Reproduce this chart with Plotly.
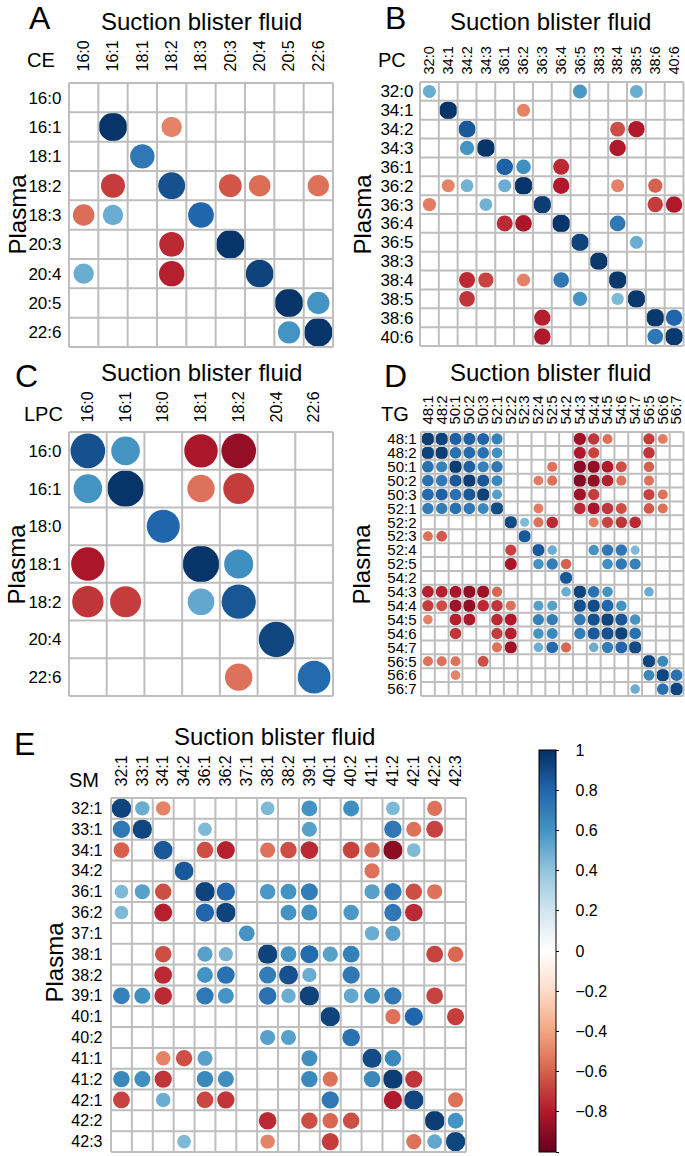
import math
import plotly.graph_objects as go

W, H = 685, 1156
_ = None

# ---------------- data ----------------
ce_labels = ["16:0", "16:1", "18:1", "18:2", "18:3", "20:3", "20:4", "20:5", "22:6"]
ce_matrix = [
    [_, _, _, _, _, _, _, _, _],
    [_, .98, _, -.5, _, _, _, _, _],
    [_, _, .72, _, _, _, _, _, _],
    [_, -.7, _, .88, _, -.63, -.56, _, -.55],
    [-.56, .5, _, _, .8, _, _, _, _],
    [_, _, _, -.75, _, .98, _, _, _],
    [.5, _, _, -.78, _, _, .93, _, _],
    [_, _, _, _, _, _, _, .98, .6],
    [_, _, _, _, _, _, _, .6, .98],
]

pc_labels = ["32:0", "34:1", "34:2", "34:3", "36:1", "36:2", "36:3", "36:4", "36:5",
             "38:3", "38:4", "38:5", "38:6", "40:6"]
pc_matrix = [
    [.5, _, _, _, _, _, _, _, .58, _, _, .5, _, _],
    [_, .98, _, _, _, -.5, _, _, _, _, _, _, _, _],
    [_, _, .85, _, _, _, _, _, _, _, -.65, -.8, _, _],
    [_, _, .6, .98, _, _, _, _, _, _, -.8, _, _, _],
    [_, _, _, _, .82, .62, _, -.75, _, _, _, _, _, _],
    [_, -.5, .48, _, .5, .98, _, -.8, _, _, -.5, _, -.6, _],
    [-.52, _, _, .48, _, _, .95, _, _, _, _, _, -.7, -.8],
    [_, _, _, _, -.75, -.82, _, .98, _, _, .72, _, _, _],
    [_, _, _, _, _, _, _, _, .93, _, _, .5, _, _],
    [_, _, _, _, _, _, _, _, _, .97, _, _, _, _],
    [_, _, -.75, -.68, _, -.5, _, .72, _, _, .97, _, _, _],
    [_, _, -.72, _, _, _, _, _, .6, _, .45, .97, _, _],
    [_, _, _, _, _, _, -.78, _, _, _, _, _, .97, .8],
    [_, _, _, _, _, _, -.8, _, _, _, _, _, .72, .97],
]

lpc_labels = ["16:0", "16:1", "18:0", "18:1", "18:2", "20:4", "22:6"]
lpc_matrix = [
    [.88, .6, _, -.82, -.88, _, _],
    [.6, .98, _, -.55, -.7, _, _],
    [_, _, .8, _, _, _, _],
    [-.82, _, _, .98, .62, _, _],
    [-.72, -.7, _, .52, .86, _, _],
    [_, _, _, _, _, .92, _],
    [_, _, _, _, -.55, _, .78],
]

tg_labels = ["48:1", "48:2", "50:1", "50:2", "50:3", "52:1", "52:2", "52:3", "52:4", "52:5",
             "54:2", "54:3", "54:4", "54:5", "54:6", "54:7", "56:5", "56:6", "56:7"]
tg_matrix = [
    [.95, .93, .82, .82, .8, .68, _, _, _, _, _, -.85, -.72, -.55, _, _, -.7, -.52, _],
    [.93, .95, .75, .78, .75, .62, _, _, _, _, _, -.8, -.68, _, _, _, -.72, _, _],
    [.75, .68, .95, .82, .68, .72, _, _, _, -.55, _, -.9, -.88, -.8, -.65, _, -.6, _, _],
    [.75, .72, .85, .95, .85, .65, _, _, -.52, -.55, _, -.92, -.88, -.78, -.55, _, -.55, _, _],
    [.78, .82, .75, .85, .93, .55, _, _, _, _, _, -.85, -.7, _, _, _, -.68, -.55, _],
    [.7, .7, .75, .72, .65, .9, _, _, -.52, _, _, -.75, -.82, -.72, -.65, _, -.62, -.55, _],
    [_, _, _, _, _, _, .9, .45, -.55, -.75, _, _, -.52, -.68, -.72, -.75, _, _, _],
    [-.55, -.62, _, _, _, _, _, .85, _, _, _, _, _, _, _, _, _, _, _],
    [_, _, _, _, _, _, -.68, _, .85, .5, _, _, .6, .72, .72, .45, _, _, _],
    [_, _, _, _, _, _, -.82, _, .6, .7, -.6, _, _, .62, .72, .68, _, _, _],
    [_, _, _, _, _, _, _, _, _, _, .85, _, _, _, _, _, _, _, _],
    [-.78, -.78, -.82, -.88, -.85, -.58, _, _, _, _, .5, .92, .75, .6, _, _, .5, _, _],
    [-.7, -.65, -.85, -.88, -.75, -.72, -.55, _, .55, .55, _, .88, .9, .8, .6, _, _, _, _],
    [-.5, _, -.78, -.8, _, -.75, -.8, _, .68, .7, _, .72, .88, .93, .85, .6, _, _, _],
    [_, _, -.72, _, _, -.7, -.78, _, .6, .65, _, .7, .85, .88, .93, .75, _, _, _],
    [_, _, _, _, _, -.55, -.85, _, .5, .78, -.58, _, .5, .7, .8, .9, _, _, _],
    [-.55, -.55, -.55, _, -.65, _, _, _, _, _, _, _, _, _, _, _, .92, .65, _],
    [_, _, -.5, _, _, _, _, _, _, _, _, _, _, _, _, _, .65, .92, .75],
    [_, _, _, _, _, _, _, _, _, _, _, _, _, _, _, .5, _, .75, .92],
]

sm_labels = ["32:1", "33:1", "34:1", "34:2", "36:1", "36:2", "37:1", "38:1", "38:2", "39:1",
             "40:1", "40:2", "41:1", "41:2", "42:1", "42:2", "42:3"]
sm_matrix = [
    [.93, .5, -.5, _, _, _, _, .45, _, .6, _, .62, _, .45, _, -.55, _],
    [.72, .92, _, _, .45, _, _, _, _, .55, _, _, _, .72, -.55, -.68, _],
    [-.6, _, .85, _, -.65, -.78, _, -.55, -.65, -.75, _, -.68, -.58, -.9, .45, _, _],
    [_, _, _, .85, _, _, _, _, _, _, _, _, -.55, _, _, _, _],
    [.45, .55, -.65, _, .93, .8, _, .58, .6, .7, _, _, .55, .72, -.65, -.55, _],
    [.45, _, -.78, _, .8, .93, _, _, .6, .62, _, .58, _, .72, -.75, _, _],
    [_, _, _, _, _, _, .6, _, _, _, _, _, .5, .55, _, _, _],
    [_, _, -.65, _, .55, .48, _, .93, .6, .78, .55, .68, _, _, _, -.68, -.58],
    [_, _, -.75, _, .6, .75, _, .7, .88, .5, _, .72, _, _, _, _, _],
    [.68, .62, -.75, _, .72, .6, _, .75, .5, .93, _, .52, .62, .72, _, -.68, _],
    [_, _, _, _, _, _, _, _, _, _, .93, _, _, -.55, .8, _, -.7],
    [_, _, _, _, _, _, _, .55, .55, _, _, .75, _, _, _, _, _],
    [_, _, -.5, -.65, .55, _, _, _, _, .62, _, _, .9, .65, _, _, _],
    [.65, .62, -.72, _, .65, .62, _, _, _, .65, -.55, _, .65, .95, -.72, _, _],
    [-.68, _, .5, _, -.67, -.72, _, _, _, _, .72, _, _, -.8, .92, _, -.55],
    [_, _, _, _, _, _, _, -.75, _, -.65, -.58, -.65, _, _, _, .95, .6],
    [_, _, _, .45, _, _, _, -.5, _, _, -.7, _, _, _, -.55, .52, .92],
]

cbar_vals = [1, 0.8, 0.6, 0.4, 0.2, 0, -0.2, -0.4, -0.6, -0.8, -1]
cbar_text = ["1", "0.8", "0.6", "0.4", "0.2", "0", "\u22120.2", "\u22120.4", "\u22120.6", "\u22120.8", "\u22121"]

RDBU = ["#67001F", "#B2182B", "#D6604D", "#F4A582", "#FDDBC7", "#FFFFFF",
        "#D1E5F0", "#92C5DE", "#4393C3", "#2166AC", "#053061"]
colorscale = [[i / 10, c] for i, c in enumerate(RDBU)]

# ---------------- layout config (pixels) ----------------
panels = [
    dict(letter="A", cls="CE", lab=ce_labels, m=ce_matrix, gx=(69, 333), gy=(83, 347),
         rfs=17, cfs=16, rgap=5, cgap=9,
         letter_xy=(40, 18), title_xy=(201, 22), cls_xy=(41, 60), plasma_x=1, plasma_y=214),
    dict(letter="B", cls="PC", lab=pc_labels, m=pc_matrix, gx=(420, 684), gy=(82, 346),
         rfs=17, cfs=14.5, rgap=4, cgap=5,
         letter_xy=(395, 18), title_xy=(550, 22), cls_xy=(392, 60), plasma_x=346, plasma_y=214),
    dict(letter="C", cls="LPC", lab=lpc_labels, m=lpc_matrix, gx=(69, 333), gy=(432, 696),
         rfs=17, cfs=16, rgap=5, cgap=7,
         letter_xy=(26, 376), title_xy=(201, 372), cls_xy=(43, 414), plasma_x=1, plasma_y=564),
    dict(letter="D", cls="TG", lab=tg_labels, m=tg_matrix, gx=(421, 684), gy=(432, 696),
         rfs=15, cfs=15, rgap=2, cgap=5,
         letter_xy=(395, 376), title_xy=(550, 372), cls_xy=(395, 414), plasma_x=346, plasma_y=564),
    dict(letter="E", cls="SM", lab=sm_labels, m=sm_matrix, gx=(111, 466), gy=(798, 1152),
         rfs=16, cfs=16, rgap=6, cgap=9,
         letter_xy=(25, 744), title_xy=(274, 736), cls_xy=(84, 780), plasma_x=38, plasma_y=962),
]

FONT = "Liberation Sans, Arial, Helvetica, sans-serif"
GRID = "#BEBEBE"
PAD = 1.5

fig = go.Figure()
layout_axes = {}
annotations = []


def ann(text, x, y, size, angle=0, xanchor="center"):
    annotations.append(dict(text=text, x=x / W, y=1 - y / H, xref="paper", yref="paper",
                            xanchor=xanchor, yanchor="middle", showarrow=False, textangle=angle,
                            font=dict(size=size, color="black", family=FONT)))


for idx, p in enumerate(panels):
    n = len(p["lab"])
    x0, x1 = p["gx"]
    y0, y1 = p["gy"]
    cellx = (x1 - x0) / n
    celly = (y1 - y0) / n
    cell = min(cellx, celly)
    ax = "" if idx == 0 else str(idx + 1)

    xs, ys, vs, ss = [], [], [], []
    for i, row in enumerate(p["m"]):
        for j, v in enumerate(row):
            if v is None:
                continue
            xs.append(j)
            ys.append(i)
            vs.append(v)
            ss.append(cell * 0.98 * math.sqrt(abs(v)))

    fig.add_trace(go.Scatter(
        x=xs, y=ys, mode="markers", xaxis="x" + ax, yaxis="y" + ax,
        marker=dict(size=ss, color=vs, coloraxis="coloraxis", line=dict(width=0),
                    symbol="circle", opacity=1),
        hoverinfo="skip", showlegend=False, cliponaxis=False))

    gxs, gys = [], []
    for k in range(n + 1):
        gxs += [k - 0.5, k - 0.5, None]
        gys += [-0.5, n - 0.5, None]
        gxs += [-0.5, n - 0.5, None]
        gys += [k - 0.5, k - 0.5, None]
    fig.add_trace(go.Scatter(
        x=gxs, y=gys, mode="lines", xaxis="x" + ax, yaxis="y" + ax,
        line=dict(color=GRID, width=2), hoverinfo="skip", showlegend=False))

    px_ = PAD / cellx
    py_ = PAD / celly
    layout_axes["xaxis" + ax] = dict(
        domain=[(x0 - PAD) / W, min(1.0, (x1 + PAD) / W)],
        range=[-0.5 - px_, n - 0.5 + px_], anchor="y" + ax, side="top",
        tickmode="array", tickvals=list(range(n)), ticktext=p["lab"], tickangle=-90,
        tickfont=dict(size=p["cfs"], color="black", family=FONT),
        showgrid=False, zeroline=False, showline=False, ticks="",
        ticklabelstandoff=p["cgap"], fixedrange=True)
    layout_axes["yaxis" + ax] = dict(
        domain=[1 - (y1 + PAD) / H, 1 - (y0 - PAD) / H],
        range=[n - 0.5 + py_, -0.5 - py_], anchor="x" + ax,
        tickmode="array", tickvals=list(range(n)), ticktext=p["lab"],
        tickfont=dict(size=p["rfs"], color="black", family=FONT),
        showgrid=False, zeroline=False, showline=False, ticks="",
        ticklabelstandoff=p["rgap"], fixedrange=True)

    ann(p["letter"], p["letter_xy"][0], p["letter_xy"][1], 32)
    ann("Suction blister fluid", p["title_xy"][0], p["title_xy"][1], 24)
    ann(p["cls"], p["cls_xy"][0], p["cls_xy"][1], 20)
    ann("Plasma", p["plasma_x"], p["plasma_y"], 24, angle=-90, xanchor="left")

fig.update_layout(
    width=W, height=H,
    margin=dict(l=0, r=0, t=0, b=0),
    paper_bgcolor="white", plot_bgcolor="white",
    font=dict(family=FONT, color="black"),
    annotations=annotations,
    coloraxis=dict(
        cmin=-1, cmax=1, colorscale=colorscale,
        colorbar=dict(
            thickness=17, thicknessmode="pixels",
            len=402, lenmode="pixels",
            x=539 / W, xanchor="left", y=1 - 1152 / H, yanchor="bottom",
            xpad=0, ypad=0,
            outlinecolor="black", outlinewidth=1,
            ticks="outside", ticklen=3, tickwidth=1, tickcolor="black",
            tickmode="array", tickvals=cbar_vals,
            ticktext=["\u00a0\u00a0\u00a0" + t for t in cbar_text],
            tickfont=dict(size=16, color="black", family=FONT),
        ),
    ),
    **layout_axes,
)

fig.write_html("out.html",
               config={"displayModeBar": False, "staticPlot": False},
               post_script="document.body.style.margin='0px';document.body.style.padding='0px';")
